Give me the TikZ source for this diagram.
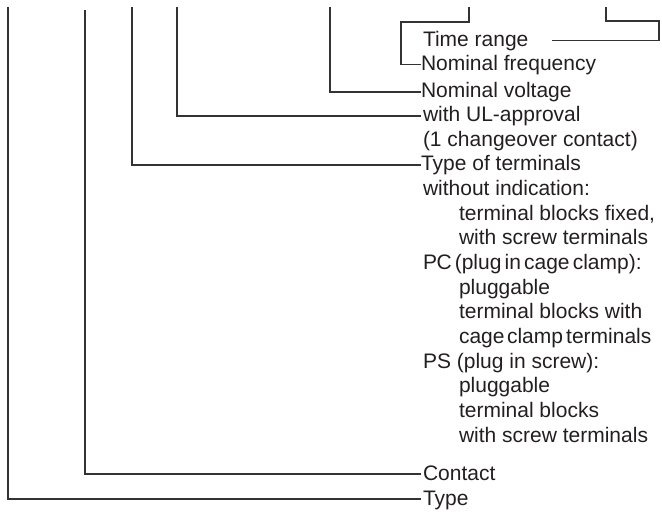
\documentclass[tikz,border=0pt]{standalone}
\usepackage{fontspec}
\setmainfont{Liberation Sans}
\usetikzlibrary{calc}
\definecolor{ink}{HTML}{231F20}
\definecolor{wire}{HTML}{333333}
\begin{document}
\begin{tikzpicture}[x=1pt,y=-1pt,
  conn/.style={draw=wire,line width=1.1pt,line join=miter},
  lbl/.style={anchor=west,inner sep=0pt,outer sep=0pt,text height=12pt,text depth=0pt,
    text=ink,font=\fontsize{21}{24}\selectfont},
  ]
\useasboundingbox (0,0) rectangle (662,513);
% labels (y = connector height, about 6 above baseline)
\node[lbl] (TR) at (423,40.5) {Time range};
\node[lbl] (NF) at (421,64.5) {Nominal frequency};
\node[lbl] (NV) at (421,92) {Nominal voltage};
\node[lbl] (UL) at (423,116) {with UL-approval};
\node[lbl] (CO) at (423,140.5) {(1 changeover contact)};
\node[lbl] (TT) at (421,165) {Type of terminals};
\node[lbl] (WI) at (423,189.7) {without indication:};
\node[lbl] (L8) at (459,214.3) {terminal blocks fixed,};
\node[lbl] (L9) at (459,239) {with screw terminals};
\node[lbl] (PC) at (423,263.6) {P\kern-0.5pt C\hspace{0.15em}(plug\hspace{0.15em}in\hspace{0.15em}cage\hspace{0.15em}clamp):};
\node[lbl] (L11) at (459,288.2) {pluggable};
\node[lbl] (L12) at (459,312.9) {terminal blocks with};
\node[lbl] (L13) at (459,337.5) {cage\hspace{0.12em}clamp\hspace{0.15em}terminals};
\node[lbl] (PS) at (423,362.2) {PS (plug in screw):};
\node[lbl] (L15) at (459,386.8) {pluggable};
\node[lbl] (L16) at (459,411.5) {terminal blocks};
\node[lbl] (L17) at (459,436.1) {with screw terminals};
\node[lbl] (CT) at (423,474) {Contact};
\node[lbl] (TY) at (423,499) {Type};
% free ends at the top edge
\coordinate (t1) at (8,7);
\coordinate (t2) at (85,10);
\coordinate (t3) at (132,7);
\coordinate (t4) at (177,7);
\coordinate (t5) at (330,7);
\coordinate (t6) at (469,7);
\coordinate (k6) at (401,22);
\coordinate (t7) at (606,7);
\coordinate (k7) at (659,21);
% connectors
\draw[conn] (t1) |- ($(TY.west)+(-2,0)$);
\draw[conn] (t2) |- ($(CT.west)+(-2,0)$);
\draw[conn] (t3) |- (TT.west);
\draw[conn] (t4) |- ($(UL.west)+(-2,0)$);
\draw[conn] (t5) |- (NV.west);
\draw[conn] (t6) |- (k6) |- (NF.west);
\draw[conn] (t7) |- (k7) |- ($(TR.east)+(24,0)$);
\end{tikzpicture}
\end{document}
